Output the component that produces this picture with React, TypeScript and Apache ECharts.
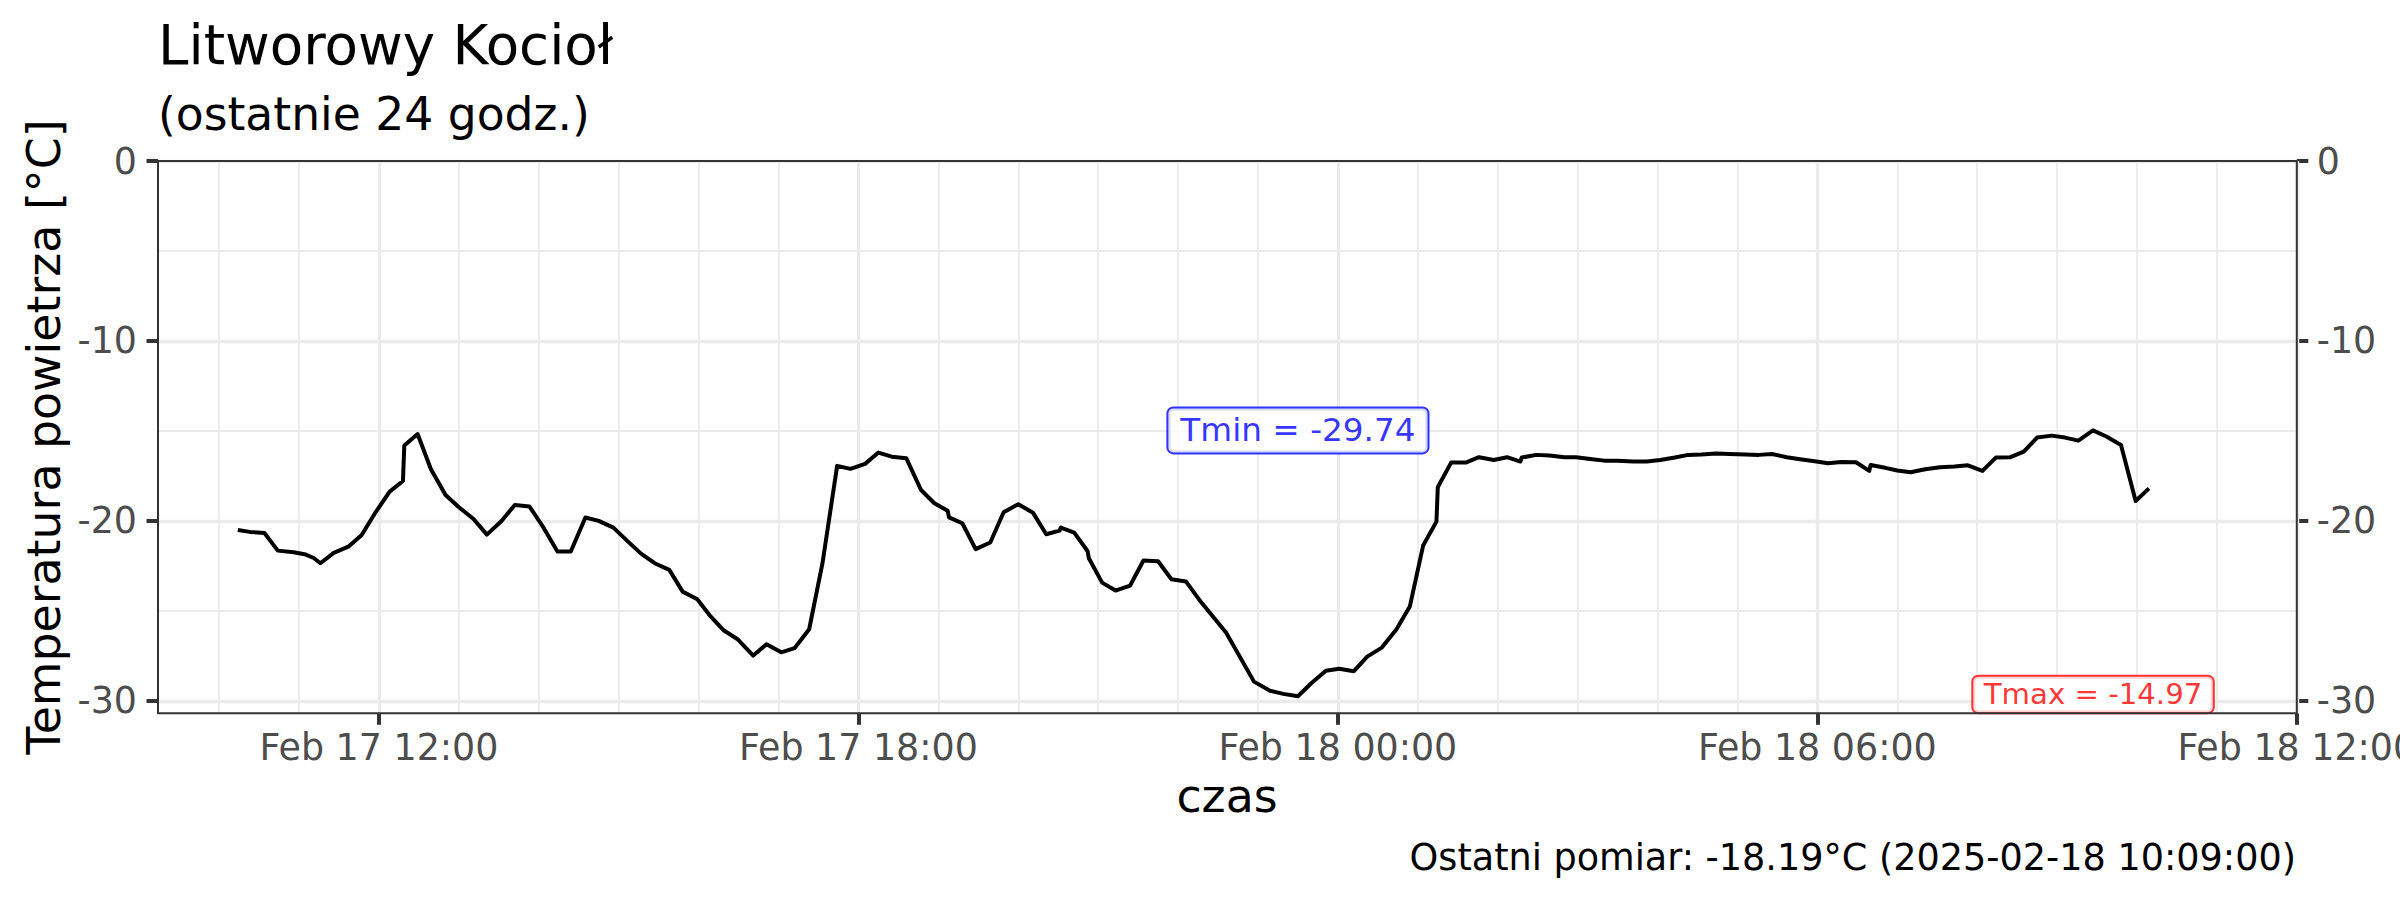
import React, { useEffect, useRef } from "react";
import * as echarts from "echarts";

const FONT = '"DejaVu Sans", sans-serif';

const titleText = "Litworowy Kocioł";
const subtitleText = "(ostatnie 24 godz.)";
const xAxisTitle = "czas";
const yAxisTitle = "Temperatura powietrza [°C]";
const lastTimeText = "2025-02-18 10:09:00";

const times: string[] = [
  "2025-02-17 10:14", "2025-02-17 10:23", "2025-02-17 10:34", "2025-02-17 10:44", "2025-02-17 10:56",
  "2025-02-17 11:05", "2025-02-17 11:11", "2025-02-17 11:16", "2025-02-17 11:26", "2025-02-17 11:37",
  "2025-02-17 11:47", "2025-02-17 11:57", "2025-02-17 12:08", "2025-02-17 12:18", "2025-02-17 12:19",
  "2025-02-17 12:29", "2025-02-17 12:39", "2025-02-17 12:50", "2025-02-17 13:00", "2025-02-17 13:11",
  "2025-02-17 13:21", "2025-02-17 13:32", "2025-02-17 13:42", "2025-02-17 13:53", "2025-02-17 14:03",
  "2025-02-17 14:14", "2025-02-17 14:24", "2025-02-17 14:35", "2025-02-17 14:45", "2025-02-17 14:56",
  "2025-02-17 15:07", "2025-02-17 15:17", "2025-02-17 15:27", "2025-02-17 15:38", "2025-02-17 15:48",
  "2025-02-17 15:59", "2025-02-17 16:09", "2025-02-17 16:19", "2025-02-17 16:29", "2025-02-17 16:41",
  "2025-02-17 16:51", "2025-02-17 17:02", "2025-02-17 17:12", "2025-02-17 17:23", "2025-02-17 17:33",
  "2025-02-17 17:44", "2025-02-17 17:54", "2025-02-17 18:05", "2025-02-17 18:15", "2025-02-17 18:25",
  "2025-02-17 18:36", "2025-02-17 18:47", "2025-02-17 18:57", "2025-02-17 19:07", "2025-02-17 19:08",
  "2025-02-17 19:18", "2025-02-17 19:28", "2025-02-17 19:39", "2025-02-17 19:49", "2025-02-17 20:00",
  "2025-02-17 20:11", "2025-02-17 20:21", "2025-02-17 20:31", "2025-02-17 20:32", "2025-02-17 20:42",
  "2025-02-17 20:52", "2025-02-17 20:53", "2025-02-17 21:03", "2025-02-17 21:13", "2025-02-17 21:24",
  "2025-02-17 21:34", "2025-02-17 21:45", "2025-02-17 21:55", "2025-02-17 22:06", "2025-02-17 22:16",
  "2025-02-17 22:36", "2025-02-17 22:57", "2025-02-17 23:09", "2025-02-17 23:19", "2025-02-17 23:30",
  "2025-02-17 23:40", "2025-02-17 23:51", "2025-02-18 00:01", "2025-02-18 00:12", "2025-02-18 00:22",
  "2025-02-18 00:33", "2025-02-18 00:44", "2025-02-18 00:54", "2025-02-18 01:04", "2025-02-18 01:14",
  "2025-02-18 01:15", "2025-02-18 01:25", "2025-02-18 01:36", "2025-02-18 01:46", "2025-02-18 01:57",
  "2025-02-18 02:07", "2025-02-18 02:17", "2025-02-18 02:18", "2025-02-18 02:29", "2025-02-18 02:39",
  "2025-02-18 02:50", "2025-02-18 02:59", "2025-02-18 03:11", "2025-02-18 03:20", "2025-02-18 03:30",
  "2025-02-18 03:42", "2025-02-18 03:52", "2025-02-18 04:02", "2025-02-18 04:13", "2025-02-18 04:23",
  "2025-02-18 04:33", "2025-02-18 04:44", "2025-02-18 04:54", "2025-02-18 05:06", "2025-02-18 05:16",
  "2025-02-18 05:26", "2025-02-18 05:37", "2025-02-18 05:47", "2025-02-18 05:58", "2025-02-18 06:08",
  "2025-02-18 06:18", "2025-02-18 06:29", "2025-02-18 06:39", "2025-02-18 06:40", "2025-02-18 06:51",
  "2025-02-18 07:00", "2025-02-18 07:10", "2025-02-18 07:21", "2025-02-18 07:32", "2025-02-18 07:43",
  "2025-02-18 07:53", "2025-02-18 08:04", "2025-02-18 08:14", "2025-02-18 08:25", "2025-02-18 08:35",
  "2025-02-18 08:45", "2025-02-18 08:56", "2025-02-18 09:06", "2025-02-18 09:16", "2025-02-18 09:27",
  "2025-02-18 09:37", "2025-02-18 09:48", "2025-02-18 09:59", "2025-02-18 10:09",
];

const temps: number[] = [
  -20.5, -20.61, -20.67, -21.65, -21.74,
  -21.87, -22.06, -22.35, -21.78, -21.43,
  -20.78, -19.57, -18.37, -17.78, -15.81,
  -15.17, -17.13, -18.56, -19.24, -19.89,
  -20.76, -20.0, -19.11, -19.2, -20.31,
  -21.7, -21.7, -19.81, -20.0, -20.37,
  -21.15, -21.83, -22.35, -22.72, -23.93,
  -24.35, -25.31, -26.09, -26.56, -27.48,
  -26.85, -27.3, -27.07, -26.02, -22.35,
  -16.94, -17.11, -16.83, -16.2, -16.43,
  -16.52, -18.28, -19.02, -19.44, -19.8,
  -20.13, -21.57, -21.2, -19.52, -19.07,
  -19.54, -20.74, -20.54, -20.37, -20.65,
  -21.67, -22.07, -23.43, -23.87, -23.59,
  -22.2, -22.24, -23.24, -23.37, -24.39,
  -26.2, -28.93, -29.44, -29.61, -29.74,
  -29.02, -28.33, -28.22, -28.35, -27.54,
  -27.04, -26.02, -24.76, -21.37, -20.04,
  -18.13, -16.76, -16.76, -16.46, -16.61,
  -16.46, -16.7, -16.48, -16.33, -16.36,
  -16.46, -16.46, -16.57, -16.65, -16.65,
  -16.7, -16.7, -16.61, -16.48, -16.33,
  -16.31, -16.26, -16.28, -16.31, -16.33,
  -16.28, -16.46, -16.57, -16.68, -16.8,
  -16.72, -16.74, -17.22, -16.89, -17.05,
  -17.2, -17.3, -17.13, -17.02, -16.98,
  -16.91, -17.22, -16.48, -16.46, -16.15,
  -15.37, -15.26, -15.37, -15.54, -14.97,
  -15.31, -15.78, -18.89, -18.19,
];

const xMajorTicks: string[] = [
  "2025-02-17 12:00", "2025-02-17 18:00", "2025-02-18 00:00", "2025-02-18 06:00", "2025-02-18 12:00",
];
const xMinorStart = "2025-02-17 10:00";
const xMinorEnd = "2025-02-18 11:00";
const xRange: string[] = ["2025-02-17 09:14:04", "2025-02-18 12:00"];
const yMajorTicks: number[] = [0, -10, -20, -30];
const yMinorBreaks: number[] = [-5, -15, -25];
const yRange: number[] = [-30.69, 0];

const MONTHS = ["Jan", "Feb", "Mar", "Apr", "May", "Jun", "Jul", "Aug", "Sep", "Oct", "Nov", "Dec"];

function parseTime(s: string): number {
  const [d, t] = s.split(" ");
  const [Y, M, D] = d.split("-").map(Number);
  const parts = t.split(":").map(Number);
  return Date.UTC(Y, M - 1, D, parts[0], parts[1], parts[2] || 0);
}

function pad(n: number) {
  return n < 10 ? "0" + n : "" + n;
}

function fmtTime(v: number): string {
  const d = new Date(v);
  return `${MONTHS[d.getUTCMonth()]} ${d.getUTCDate()} ${pad(d.getUTCHours())}:${pad(d.getUTCMinutes())}`;
}

export default function App() {
  const ref = useRef<HTMLDivElement>(null);

  useEffect(() => {
    document.body.style.margin = "0";
    if (!ref.current) return;
    const chart = echarts.init(ref.current, undefined, { renderer: "svg" });

    const data = times.map((t, i) => [parseTime(t), temps[i]]);
    let iMin = 0;
    let iMax = 0;
    temps.forEach((v, i) => {
      if (v < temps[iMin]) iMin = i;
      if (v > temps[iMax]) iMax = i;
    });
    const tMinVal = temps[iMin];
    const tMaxVal = temps[iMax];

    const xTickVals = xMajorTicks.map(parseTime);
    const xMin = parseTime(xRange[0]);
    const xMax = parseTime(xRange[1]);
    const HOUR = 3600000;
    const minorX: number[] = [];
    for (let t = parseTime(xMinorStart); t <= parseTime(xMinorEnd); t += HOUR) {
      if (xTickVals.indexOf(t) < 0) minorX.push(t);
    }

    const GRID_COLOR = "#EBEBEB";
    const gridLines: any[] = [];
    minorX.forEach((t) => gridLines.push({ xAxis: t, lineStyle: { color: GRID_COLOR, width: 1.8, type: "solid" } }));
    yMinorBreaks.forEach((v) => gridLines.push({ yAxis: v, lineStyle: { color: GRID_COLOR, width: 1.8, type: "solid" } }));
    xTickVals.forEach((t) => gridLines.push({ xAxis: t, lineStyle: { color: GRID_COLOR, width: 3.4, type: "solid" } }));
    yMajorTicks.forEach((v) => gridLines.push({ yAxis: v, lineStyle: { color: GRID_COLOR, width: 3.4, type: "solid" } }));

    const tickStyle = { color: "#333333", width: 4 };
    const labelStyle = { fontSize: 36.4, color: "#4D4D4D", fontFamily: FONT };

    const lastIdx = temps.length - 1;
    const caption = `Ostatni pomiar: ${temps[lastIdx].toFixed(2)}°C (${lastTimeText})`;

    const option: any = {
      animation: false,
      backgroundColor: "#ffffff",
      textStyle: { fontFamily: FONT },
      grid: {
        left: 158,
        top: 161,
        width: 2138.8,
        height: 552.3,
        show: true,
        z: 10,
        backgroundColor: "transparent",
        borderColor: "#333333",
        borderWidth: 2,
        containLabel: false,
        outerBoundsMode: "none",
      },
      xAxis: {
        type: "value",
        min: xMin,
        max: xMax,
        axisLine: { show: false, onZero: false },
        splitLine: { show: false },
        axisTick: { show: true, customValues: xTickVals, length: 11.5, lineStyle: tickStyle },
        axisLabel: {
          ...labelStyle,
          customValues: xTickVals,
          margin: 16,
          formatter: (v: number) => fmtTime(v),
        },
      },
      yAxis: [
        {
          type: "value",
          position: "left",
          min: yRange[0],
          max: yRange[1],
          axisLine: { show: false, onZero: false },
          splitLine: { show: false },
          axisTick: { show: true, customValues: yMajorTicks, length: 11.5, lineStyle: tickStyle },
          axisLabel: { ...labelStyle, customValues: yMajorTicks, margin: 21 },
        },
        {
          type: "value",
          position: "right",
          min: yRange[0],
          max: yRange[1],
          axisLine: { show: false, onZero: false },
          splitLine: { show: false },
          axisTick: { show: true, customValues: yMajorTicks, length: 11.5, lineStyle: tickStyle },
          axisLabel: { ...labelStyle, customValues: yMajorTicks, margin: 20 },
        },
      ],
      series: [
        {
          type: "line",
          z: 1,
          data: [],
          silent: true,
          markLine: {
            z: 1,
            silent: true,
            symbol: ["none", "none"],
            label: { show: false },
            animation: false,
            data: gridLines,
          },
        },
        {
          type: "line",
          z: 6,
          data,
          showSymbol: false,
          symbol: "none",
          lineStyle: { color: "#000000", width: 4, join: "round", cap: "butt" },
          silent: true,
        },
        {
          type: "scatter",
          z: 7,
          silent: true,
          symbolSize: 1,
          itemStyle: { color: "rgba(0,0,0,0)" },
          data: [[parseTime(times[iMin]), tMaxVal]],
          label: {
            show: true,
            position: "inside",
            formatter: `Tmin = ${tMinVal.toFixed(2)}`,
            color: "#0000FF",
            fontSize: 32.7,
            lineHeight: 33,
            fontFamily: FONT,
            backgroundColor: "#ffffff",
            borderColor: "#0000FF",
            borderWidth: 2,
            borderRadius: 5,
            padding: [5.5, 12, 5.5, 12],
          },
        },
        {
          type: "scatter",
          z: 7,
          silent: true,
          symbolSize: 1,
          itemStyle: { color: "rgba(0,0,0,0)" },
          data: [[parseTime(times[iMax]), tMinVal]],
          label: {
            show: true,
            position: "inside",
            formatter: `Tmax = ${tMaxVal.toFixed(2)}`,
            color: "#FF0000",
            fontSize: 29.2,
            lineHeight: 29,
            fontFamily: FONT,
            backgroundColor: "#ffffff",
            borderColor: "#FF0000",
            borderWidth: 2,
            borderRadius: 5,
            padding: [5, 10.5, 1.5, 10.5],
            offset: [0, -1.8],
          },
        },
      ],
      graphic: [
        {
          type: "text",
          x: 158,
          y: 45,
          style: {
            text: titleText,
            fontSize: 54.7,
            fontFamily: FONT,
            fill: "#000000",
            align: "left",
            verticalAlign: "middle",
            textAlign: "left",
            textVerticalAlign: "middle",
          },
        },
        {
          type: "text",
          x: 158,
          y: 114,
          style: {
            text: subtitleText,
            fontSize: 45.6,
            fontFamily: FONT,
            fill: "#000000",
            align: "left",
            verticalAlign: "middle",
            textAlign: "left",
            textVerticalAlign: "middle",
          },
        },
        {
          type: "text",
          x: 1227,
          y: 796,
          style: {
            text: xAxisTitle,
            fontSize: 45.8,
            fontFamily: FONT,
            fill: "#000000",
            align: "center",
            verticalAlign: "middle",
            textAlign: "center",
            textVerticalAlign: "middle",
          },
        },
        {
          type: "text",
          x: 44,
          y: 437,
          rotation: Math.PI / 2,
          style: {
            text: yAxisTitle,
            fontSize: 45.8,
            fontFamily: FONT,
            fill: "#000000",
            align: "center",
            verticalAlign: "middle",
            textAlign: "center",
            textVerticalAlign: "middle",
          },
        },
        {
          type: "text",
          x: 2296,
          y: 857,
          style: {
            text: caption,
            fontSize: 36.6,
            fontFamily: FONT,
            fill: "#000000",
            align: "right",
            verticalAlign: "middle",
            textAlign: "right",
            textVerticalAlign: "middle",
          },
        },
      ],
    };

    chart.setOption(option);
    return () => {
      chart.dispose();
    };
  }, []);

  return <div ref={ref} style={{ width: 2400, height: 900 }} />;
}
